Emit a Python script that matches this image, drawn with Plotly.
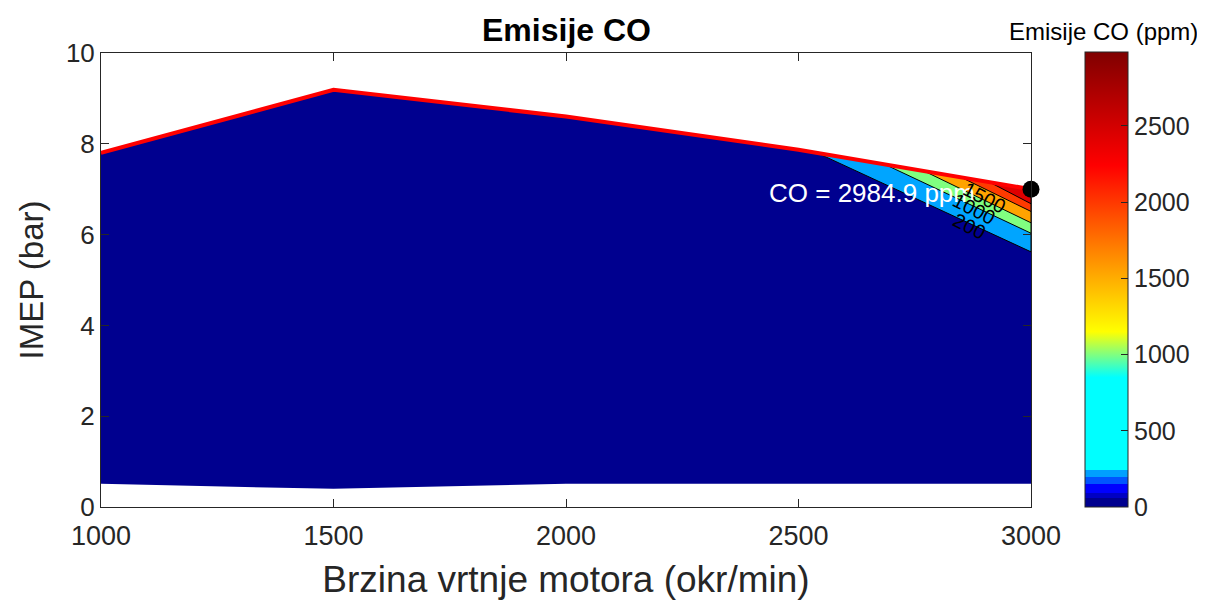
import plotly.graph_objects as go

# Engine operating envelope (speed in okr/min, IMEP in bar)
SPEED = [1000, 1500, 2000, 2500, 3000]
IMEP_MAX = [7.80, 9.19, 8.60, 7.87, 7.00]
IMEP_MIN = [0.51, 0.40, 0.51, 0.51, 0.51]

# CO iso-lines (ppm): where each meets the upper envelope and the 3000 rpm edge
CO_LEVELS = [200, 1000, 1500, 2000, 2500]
ISO_TOP_SPEED = [2540, 2685, 2770, 2850, 2910]
ISO_TOP_IMEP = [7.80, 7.55, 7.40, 7.26, 7.16]
ISO_EDGE_IMEP = [5.62, 6.03, 6.26, 6.51, 6.68]

# contour labels
LABEL_TEXT = ['200', '1000', '1500']
LABEL_SPEED = [2867, 2878, 2901]
LABEL_IMEP = [6.20, 6.57, 6.80]

# maximum CO point
MAX_SPEED = 3000
MAX_IMEP = 7.0
CO_MAX = 2984.9

FONT = 'Liberation Sans, Arial, Helvetica, sans-serif'
AXIS_COLOR = '#262626'
BASE_COLOR = '#00008F'
BAND_COLORS = ['#00A5FF', '#80FF80', '#FFA300', '#FF3A00', '#E00000']

# colormap of the colorbar (ppm, colour)
CMAP_STOPS = [
    (0, '#00008F'), (62, '#00008F'), (62, '#0000C4'), (95, '#0000C4'),
    (95, '#0000FF'), (150, '#0000FF'), (150, '#0055FF'), (195, '#0055FF'),
    (195, '#00A0FF'), (242, '#00A0FF'), (242, '#00FFFF'), (850, '#00FFFF'),
    (1000, '#80FF80'), (1150, '#FFFF00'), (2240, '#FF0000'), (2985, '#800000'),
]
CMAX = 2985
colorscale = [[v / CMAX, c] for v, c in CMAP_STOPS]

# the html page puts the figure 8 px in from the window corner
OFF = 8
W, H = 1205 - OFF, 603 - OFF
# plot area in figure pixels
L, R, T, B = 101 - OFF, 1031 - OFF, 53 - OFF, 507 - OFF
PW, PH = R - L, B - T

fig = go.Figure()

# operating area (low CO)
fig.add_trace(go.Scatter(
    x=SPEED + SPEED[::-1], y=IMEP_MAX + IMEP_MIN[::-1],
    fill='toself', fillcolor=BASE_COLOR, mode='lines',
    line=dict(width=0), hoverinfo='skip', showlegend=False))

# filled bands above every iso-line
for i, lvl in enumerate(CO_LEVELS):
    fig.add_trace(go.Scatter(
        x=[ISO_TOP_SPEED[i], MAX_SPEED, MAX_SPEED, ISO_TOP_SPEED[i]],
        y=[ISO_TOP_IMEP[i], IMEP_MAX[-1], ISO_EDGE_IMEP[i], ISO_TOP_IMEP[i]],
        fill='toself', fillcolor=BAND_COLORS[i], mode='lines',
        line=dict(color='black', width=1), name=str(lvl),
        hoverinfo='skip', showlegend=False))

# upper envelope
fig.add_trace(go.Scatter(
    x=SPEED, y=IMEP_MAX, mode='lines',
    line=dict(color='#FF0000', width=4), showlegend=False))

# colorbar carrier
fig.add_trace(go.Scatter(
    x=[MAX_SPEED], y=[MAX_IMEP], mode='markers', showlegend=False,
    hoverinfo='skip',
    marker=dict(size=1, opacity=0, color=[CO_MAX], colorscale=colorscale,
                cmin=0, cmax=CMAX, showscale=True,
                colorbar=dict(
                    x=(1085 - OFF - L) / PW, xanchor='left', xpad=0,
                    y=0, yanchor='bottom', ypad=0,
                    len=PH + 1, lenmode='pixels',
                    thickness=43, thicknessmode='pixels',
                    outlinecolor=AXIS_COLOR, outlinewidth=1,
                    ticks='inside', ticklen=7, tickcolor=AXIS_COLOR,
                    tickvals=[0, 500, 1000, 1500, 2000, 2500],
                    tickprefix='\u00a0\u00a0',
                    tickfont=dict(size=25, color=AXIS_COLOR, family=FONT),
                ))))

# max CO point
fig.add_trace(go.Scatter(
    x=[MAX_SPEED], y=[MAX_IMEP], mode='markers', cliponaxis=False,
    marker=dict(size=17, color='black'), showlegend=False))

fig.add_annotation(
    x=MAX_SPEED, y=MAX_IMEP, text=f'CO = {CO_MAX:.1f} ppm',
    showarrow=False, xanchor='right', yanchor='middle',
    xshift=-54, yshift=-4,
    font=dict(size=26, color='white', family=FONT))

for t, sx, sy in zip(LABEL_TEXT, LABEL_SPEED, LABEL_IMEP):
    fig.add_annotation(
        x=sx, y=sy, text=t, showarrow=False, textangle=27,
        font=dict(size=20, color='black', family=FONT))

# colorbar title
fig.add_annotation(
    x=(1103 - OFF - L) / PW, y=1 + (T - (32 - OFF)) / PH,
    xref='paper', yref='paper',
    text='Emisije CO (ppm)', showarrow=False,
    xanchor='center', yanchor='middle',
    font=dict(size=24, color='black', family=FONT))

# chart title
fig.add_annotation(
    x=0.5, y=1 + (T - (30 - OFF)) / PH, xref='paper', yref='paper',
    text='<b>Emisije CO</b>', showarrow=False,
    xanchor='center', yanchor='middle',
    font=dict(size=32, color='black', family=FONT))

axis_common = dict(
    showline=True, linecolor=AXIS_COLOR, linewidth=1, mirror='ticks',
    ticks='inside', ticklen=8, tickcolor=AXIS_COLOR,
    showgrid=False, zeroline=False, automargin=False,
    tickfont=dict(size=27, color=AXIS_COLOR, family=FONT))

fig.update_xaxes(
    range=[1000, 3000], tickvals=[1000, 1500, 2000, 2500, 3000],
    ticklabelstandoff=5,
    title=dict(text='Brzina vrtnje motora (okr/min)', standoff=15,
               font=dict(size=37, color=AXIS_COLOR, family=FONT)),
    **axis_common)
fig.update_yaxes(
    range=[0, 10], tickvals=[0, 2, 4, 6, 8, 10],
    title=dict(text='IMEP (bar)', standoff=12,
               font=dict(size=33, color=AXIS_COLOR, family=FONT)),
    **axis_common)
fig.update_yaxes(tickfont_size=26)

fig.update_layout(
    width=W, height=H,
    margin=dict(l=L, r=W - R, t=T, b=H - B, autoexpand=False),
    paper_bgcolor='white', plot_bgcolor='white',
    showlegend=False,
)

fig.write_html('out.html')
